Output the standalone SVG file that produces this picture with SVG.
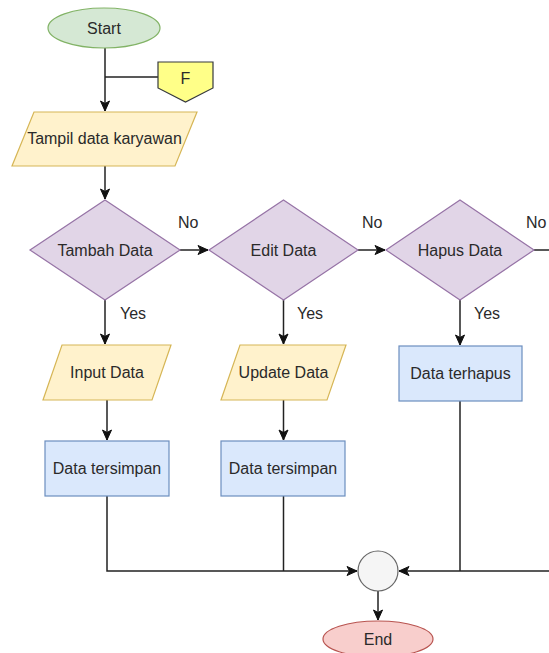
<svg xmlns="http://www.w3.org/2000/svg" width="549" height="653" viewBox="0 0 549 653">
<defs>
<marker id="arr" markerUnits="userSpaceOnUse" markerWidth="12" markerHeight="12" viewBox="0 0 12 12" refX="11" refY="6" orient="auto">
<path d="M1,1.5 L11,6 L1,10.5 L3.5,6 z" fill="#111" stroke="#111" stroke-width="1"/>
</marker>
<style>
text{font-family:"Liberation Sans",Arial,sans-serif;font-size:16px;fill:#2a2a2a;text-anchor:middle}
.lbl{text-anchor:start}
.ln{fill:none;stroke:#222;stroke-width:1.5}
.io{fill:#fff2cc;stroke:#d6b656;stroke-width:1.2}
.dec{fill:#e1d5e7;stroke:#9673a6;stroke-width:1.2}
.proc{fill:#dae8fc;stroke:#6c8ebf;stroke-width:1.2}
</style>
</defs>
<rect width="549" height="653" fill="#ffffff"/>
<g id="connectors">
<path class="ln" d="M105,48 V111" marker-end="url(#arr)"/>
<path class="ln" d="M105,77 H158"/>
<path class="ln" d="M105,166 V199" marker-end="url(#arr)"/>
<path class="ln" d="M180,250 H208" marker-end="url(#arr)"/>
<path class="ln" d="M358,250 H385" marker-end="url(#arr)"/>
<path class="ln" d="M534,250 H549"/>
<path class="ln" d="M105,300 V344" marker-end="url(#arr)"/>
<path class="ln" d="M283.5,300 V344" marker-end="url(#arr)"/>
<path class="ln" d="M460,300 V345" marker-end="url(#arr)"/>
<path class="ln" d="M107,400 V440" marker-end="url(#arr)"/>
<path class="ln" d="M283.5,400 V440" marker-end="url(#arr)"/>
<path class="ln" d="M107,496 V571 H357" marker-end="url(#arr)"/>
<path class="ln" d="M283.5,496 V571"/>
<path class="ln" d="M460,401 V571"/>
<path class="ln" d="M549,571 H399" marker-end="url(#arr)"/>
<path class="ln" d="M378,591 V620" marker-end="url(#arr)"/>
<text class="lbl" x="178" y="228">No</text>
<text class="lbl" x="362" y="228">No</text>
<text class="lbl" x="526" y="228">No</text>
<text class="lbl" x="120" y="319">Yes</text>
<text class="lbl" x="297" y="319">Yes</text>
<text class="lbl" x="474" y="319">Yes</text>
</g>
<g id="start">
<ellipse cx="104" cy="28" rx="56" ry="20" fill="#d5e8d4" stroke="#82b366" stroke-width="1.2"/>
<text x="104" y="34">Start</text>
</g>
<g id="offpage-f">
<polygon points="158,62 213,62 213,88 185.5,102 158,88" fill="#ffff88" stroke="#36393d" stroke-width="1.2"/>
<text x="185.5" y="84">F</text>
</g>
<g id="tampil">
<polygon class="io" points="34,112 197,112 175,166 12,166"/>
<text x="104.5" y="144">Tampil data karyawan</text>
</g>
<g id="tambah">
<polygon class="dec" points="105,200 180,250 105,300 30,250"/>
<text x="105" y="256">Tambah Data</text>
</g>
<g id="edit">
<polygon class="dec" points="283.5,200 358,250 283.5,300 209,250"/>
<text x="283.5" y="256">Edit Data</text>
</g>
<g id="hapus">
<polygon class="dec" points="460,200 534,250 460,300 386,250"/>
<text x="460" y="256">Hapus Data</text>
</g>
<g id="input">
<polygon class="io" points="62,345 171,345 152,400 43,400"/>
<text x="107" y="378">Input Data</text>
</g>
<g id="update">
<polygon class="io" points="240,345 346,345 327,400 221,400"/>
<text x="283.5" y="378">Update Data</text>
</g>
<g id="terhapus">
<rect class="proc" x="399" y="346" width="123" height="55"/>
<text x="460.5" y="379">Data terhapus</text>
</g>
<g id="tersimpan1">
<rect class="proc" x="45" y="441" width="124" height="55"/>
<text x="107" y="474">Data tersimpan</text>
</g>
<g id="tersimpan2">
<rect class="proc" x="221" y="441" width="124" height="55"/>
<text x="283" y="474">Data tersimpan</text>
</g>
<g id="merge">
<circle cx="378" cy="571" r="20" fill="#f5f5f5" stroke="#666666" stroke-width="1.2"/>
</g>
<g id="end">
<ellipse cx="378" cy="639" rx="55" ry="18" fill="#f8cecc" stroke="#b85450" stroke-width="1.2"/>
<text x="378" y="645">End</text>
</g>
</svg>
